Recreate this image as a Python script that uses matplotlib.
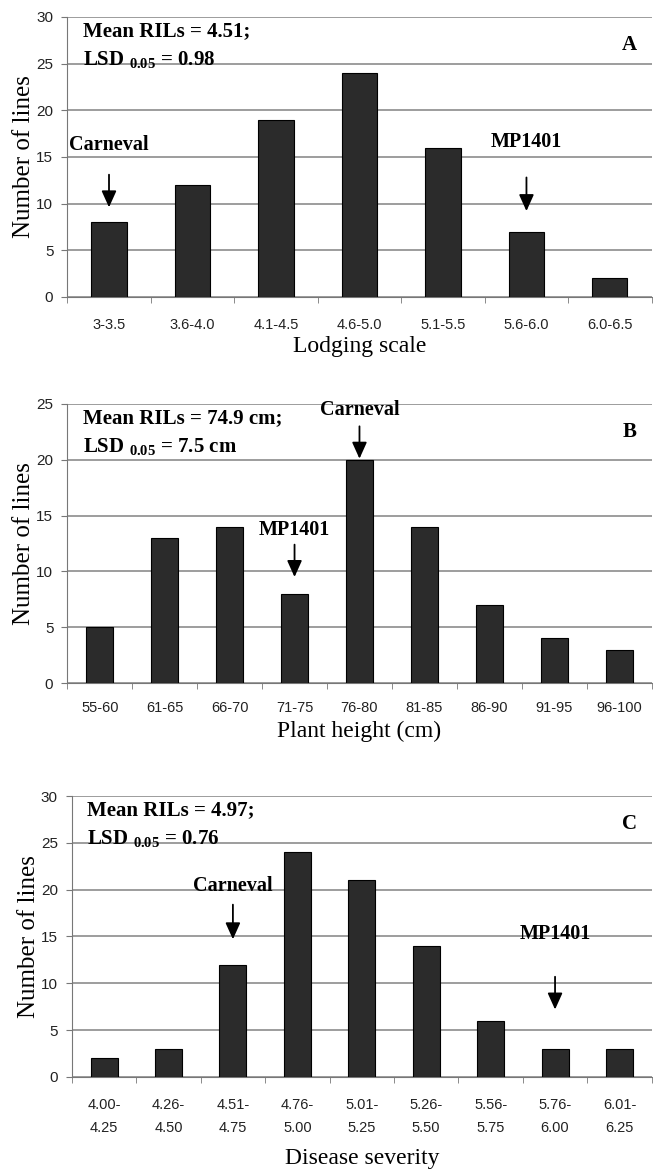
import matplotlib
matplotlib.use("Agg")
import matplotlib.pyplot as plt
import numpy as np

# Panel A
lodging_cats = ["3-3.5", "3.6-4.0", "4.1-4.5", "4.6-5.0", "5.1-5.5", "5.6-6.0", "6.0-6.5"]
lodging_vals = [8, 12, 19, 24, 16, 7, 2]
# Panel B
height_cats = ["55-60", "61-65", "66-70", "71-75", "76-80", "81-85", "86-90", "91-95", "96-100"]
height_vals = [5, 13, 14, 8, 20, 14, 7, 4, 3]
# Panel C
disease_cats = ["4.00-\n4.25", "4.26-\n4.50", "4.51-\n4.75", "4.76-\n5.00", "5.01-\n5.25",
                "5.26-\n5.50", "5.56-\n5.75", "5.76-\n6.00", "6.01-\n6.25"]
disease_vals = [2, 3, 12, 24, 21, 14, 6, 3, 3]

plt.rcParams["mathtext.fontset"] = "custom"
plt.rcParams["mathtext.rm"] = "Liberation Serif"
plt.rcParams["mathtext.bf"] = "Liberation Serif:bold"

SERIF = ["Liberation Serif", "DejaVu Serif"]
SANS = ["Liberation Sans", "DejaVu Sans"]

fig = plt.figure(figsize=(6.53, 11.72), dpi=100)

panels = [
    dict(cats=lodging_cats, vals=lodging_vals, ymax=30, xlabel="Lodging scale",
         rect=[0.103, 0.7466, 0.895, 0.239], letter="A",
         line1="Mean RILs = 4.51;", lsd=" = 0.98",
         ann=[("Carneval", 0, 15.2, 13.1, 9.6), ("MP1401", 5, 15.5, 12.8, 9.2)],
         xpad=15, xlabpad=3, ls=1.2),
    dict(cats=height_cats, vals=height_vals, ymax=25, xlabel="Plant height (cm)",
         rect=[0.103, 0.4172, 0.895, 0.2381], letter="B",
         line1="Mean RILs = 74.9 cm;", lsd=" = 7.5 cm",
         ann=[("Carneval", 4, 23.6, 23.0, 20.1), ("MP1401", 3, 12.8, 12.4, 9.5)],
         xpad=13, xlabpad=4, ls=1.2),
    dict(cats=disease_cats, vals=disease_vals, ymax=30, xlabel="Disease severity",
         rect=[0.110, 0.0811, 0.888, 0.2397], letter="C",
         line1="Mean RILs = 4.97;", lsd=" = 0.76",
         ann=[("Carneval", 2, 19.3, 18.4, 14.7), ("MP1401", 7, 14.2, 10.7, 7.2)],
         xpad=15, xlabpad=10, ls=1.8),
]

for p in panels:
    ax = fig.add_axes(p["rect"])
    n = len(p["cats"])
    x = np.arange(n)
    ax.bar(x, p["vals"], width=0.42, color="#2b2b2b", edgecolor="black", linewidth=0.8, zorder=3)
    ax.set_xlim(-0.5, n - 0.5)
    ax.set_ylim(0, p["ymax"])
    ax.set_yticks(np.arange(0, p["ymax"] + 1, 5))
    ax.yaxis.grid(True, color="#8c8c8c", linewidth=1.2, zorder=0)
    ax.set_axisbelow(True)
    for s in ["top", "right"]:
        ax.spines[s].set_visible(False)
    ax.spines["left"].set_color("#777777")
    ax.spines["bottom"].set_color("#777777")
    ax.set_xticks(x)
    ax.set_xticklabels(p["cats"], fontfamily=SANS, fontsize=10.5, color="#222222",
                       linespacing=p["ls"])
    ax.set_xticks(np.arange(-0.5, n, 1.0), minor=True)
    ax.tick_params(axis="x", which="major", length=0, pad=p["xpad"])
    ax.tick_params(axis="x", which="minor", length=4, color="#777777", direction="out")
    ax.tick_params(axis="y", length=4, color="#777777", pad=6)
    for lab in ax.get_yticklabels():
        lab.set_fontfamily(SANS)
        lab.set_fontsize(11)
        lab.set_color("#222222")
    ax.set_ylabel("Number of lines", fontfamily=SERIF, fontsize=18, labelpad=1)
    ax.set_xlabel(p["xlabel"], fontfamily=SERIF, fontsize=17, labelpad=p["xlabpad"])

    ax.text(0.027, 0.985, p["line1"], transform=ax.transAxes, fontfamily=SERIF,
            fontweight="bold", fontsize=15, va="top", ha="left")
    ax.text(0.027, 0.885, r"LSD $_{\mathbf{0.05}}$" + p["lsd"], transform=ax.transAxes,
            fontfamily=SERIF, fontweight="bold", fontsize=15, va="top", ha="left")
    ax.text(0.975, 0.90, p["letter"], transform=ax.transAxes, fontfamily=SERIF,
            fontweight="bold", fontsize=15, va="center", ha="right")

    for label, xi, ty, y0, y1 in p["ann"]:
        ax.annotate("", xy=(xi, y1), xytext=(xi, y0),
                    arrowprops=dict(arrowstyle="-|>,head_length=1.0,head_width=0.45",
                                    color="black", lw=1.3, shrinkA=0, shrinkB=0), zorder=5)
        ax.text(xi, ty, label, fontfamily=SERIF, fontweight="bold", fontsize=14.5,
                ha="center", va="bottom", zorder=5)

fig.savefig("out.png", dpi=100)
